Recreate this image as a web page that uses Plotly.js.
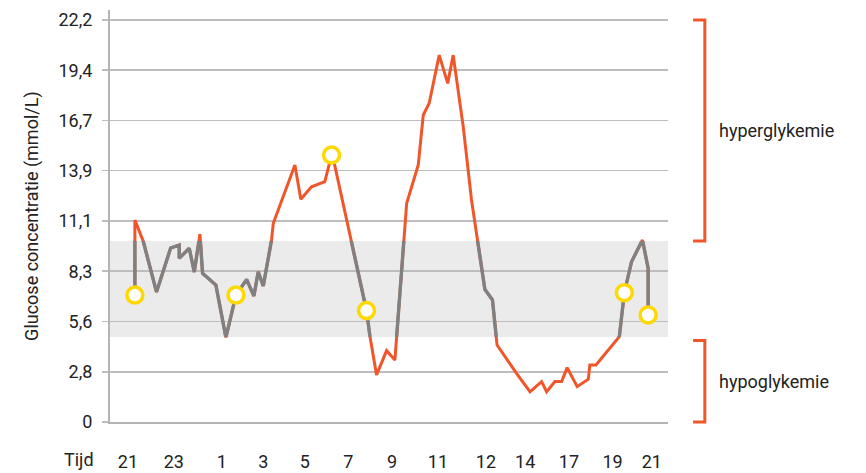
<!DOCTYPE html>
<html>
<head>
<meta charset="utf-8">
<script src="https://cdn.plot.ly/plotly-3.0.1.min.js"></script>
<style>html,body{margin:0;padding:0;background:#fff;}#chart{width:866px;height:473px;}</style>
</head>
<body>
<div id="chart"></div>
<script>
// Time in hours since 21:00, glucose in mmol/L
var hours = [0.32, 0.32, 0.70, 1.31, 1.96, 2.35, 2.35, 2.81, 3.04, 3.30, 3.42, 4.03, 4.49, 4.95, 5.44, 5.77, 5.97, 6.20, 6.58, 6.66,
             7.11, 7.65, 7.92, 8.41, 9.02, 9.18, 9.33, 9.48, 10.93, 11.09, 11.39, 11.85, 12.23, 12.77, 13.30, 13.53, 13.80, 14.26, 14.65, 14.90,
             15.36, 15.74, 16.35, 16.70, 16.91, 17.80, 18.42, 18.95, 19.18, 19.56, 19.87, 20.12, 20.58, 21.09, 21.16, 21.44, 22.51, 22.74, 23.07, 23.57,
             23.83, 23.83];
var glucose = [7.01, 11.15, 9.99, 7.18, 9.61, 9.77, 9.04, 9.59, 8.28, 10.38, 8.21, 7.56, 4.67, 7.01, 7.87, 6.96, 8.30, 7.51, 10.05, 10.97,
               12.44, 14.19, 12.30, 12.99, 13.27, 14.10, 14.74, 14.14, 6.15, 4.71, 2.60, 3.94, 3.42, 12.08, 14.19, 16.95, 17.60, 20.26, 18.70, 20.26,
               16.31, 12.26, 7.33, 6.74, 4.25, 2.69, 1.67, 2.23, 1.67, 2.23, 2.23, 3.00, 1.95, 2.36, 3.15, 3.15, 4.71, 7.14, 8.85, 10.05,
               8.49, 5.91];
// Measurement moments (yellow rings)
var markHours = [0.32, 4.95, 9.33, 10.93, 22.74, 23.83];
var markGlucose = [7.01, 7.01, 14.74, 6.15, 7.14, 5.91];

// Axis ticks
var yTickVals = [0, 2.775, 5.55, 8.325, 11.1, 13.875, 16.65, 19.425, 22.2];
var yTickText = ['0', '2,8', '5,6', '8,3', '11,1', '13,9', '16,7', '19,4', '22,2'];
var xTickVals = [0, 2.1, 4.3, 6.2, 8.1, 10.1, 12.1, 14.2, 16.4, 18.2, 20.2, 22.2, 24];
var xTickText = ['21', '23', '1', '3', '5', '7', '9', '11', '12', '14', '17', '19', '21'];

// Ranges
var normalLow = 4.7, normalHigh = 10;
var hyperTop = 22.2, hyperBottom = 10;
var hypoTop = 4.5, hypoBottom = 0;
var yMax = 22.75;

var ORANGE = '#f0562a', GRAY = '#808080', YELLOW = '#ffd800';
var FONT = "Roboto, 'Liberation Sans', Arial, sans-serif";
var FS = 18;

var traces = [
  {x: hours, y: glucose, type: 'scatter', mode: 'lines', xaxis: 'x', yaxis: 'y',
   line: {color: ORANGE, width: 3, shape: 'linear'}, hoverinfo: 'skip'},
  {x: hours, y: glucose, type: 'scatter', mode: 'lines', xaxis: 'x', yaxis: 'y2',
   line: {color: GRAY, width: 3.4, shape: 'linear'}, hoverinfo: 'skip'},
  {x: markHours, y: markGlucose, type: 'scatter', mode: 'markers', xaxis: 'x', yaxis: 'y3',
   marker: {size: 16, color: '#ffffff', line: {color: YELLOW, width: 3.5}}, cliponaxis: false, hoverinfo: 'skip'}
];

function py(v) { return v / yMax; }
function bracket(top, bottom) {
  var x0 = 1.045, x1 = 1.066;
  return {type: 'path', xref: 'paper', yref: 'paper',
    path: 'M ' + x0 + ',' + py(top) + ' L ' + x1 + ',' + py(top) + ' L ' + x1 + ',' + py(bottom) + ' L ' + x0 + ',' + py(bottom),
    line: {color: ORANGE, width: 3}};
}

var layout = {
  width: 866, height: 473,
  margin: {l: 110, r: 198, t: 10, b: 51},
  paper_bgcolor: '#ffffff', plot_bgcolor: 'rgba(0,0,0,0)',
  showlegend: false,
  font: {family: FONT, size: FS, color: '#222222'},
  xaxis: {range: [-0.82, 24.74], tickvals: xTickVals, ticktext: xTickText, ticks: '',
    showgrid: false, zeroline: false, showline: true, linecolor: '#b4b4b4', linewidth: 2,
    ticklabelstandoff: 22, tickfont: {family: FONT, size: FS, color: '#222222'}, fixedrange: true},
  yaxis: {range: [0, yMax], tickvals: yTickVals, ticktext: yTickText, ticks: 'outside', ticklen: 6,
    tickcolor: '#bdbdbd', tickwidth: 1.5, showgrid: true, gridcolor: '#bdbdbd', gridwidth: 1.5,
    zeroline: false, showline: true, linecolor: '#b4b4b4', linewidth: 2, ticklabelstandoff: 6,
    tickfont: {family: FONT, size: FS, color: '#222222'}, fixedrange: true},
  yaxis2: {domain: [normalLow / yMax, normalHigh / yMax], range: [normalLow, normalHigh], anchor: 'x',
    visible: false, fixedrange: true},
  yaxis3: {domain: [0, 1], range: [0, yMax], anchor: 'x', visible: false, fixedrange: true},
  shapes: [
    {type: 'rect', xref: 'paper', yref: 'y', x0: 0, x1: 1, y0: normalLow, y1: normalHigh,
     fillcolor: '#ebebeb', line: {width: 0}, layer: 'below'},
    bracket(hyperTop, hyperBottom),
    bracket(hypoTop, hypoBottom)
  ],
  annotations: [
    {text: 'Glucose concentratie (mmol/L)', xref: 'paper', yref: 'paper', x: -0.14, y: 0.5,
     textangle: -90, showarrow: false, xanchor: 'center', yanchor: 'middle', font: {size: FS}},
    {text: 'Tijd', xref: 'paper', yref: 'paper', x: -0.0556, y: -0.092, showarrow: false,
     xanchor: 'center', yanchor: 'middle', font: {size: FS}},
    {text: 'hyperglykemie', xref: 'paper', yref: 'y', x: 1.088, y: (hyperTop + hyperBottom) / 2,
     showarrow: false, xanchor: 'left', yanchor: 'middle', font: {size: FS}},
    {text: 'hypoglykemie', xref: 'paper', yref: 'y', x: 1.088, y: (hypoTop + hypoBottom) / 2,
     showarrow: false, xanchor: 'left', yanchor: 'middle', font: {size: FS}}
  ]
};

Plotly.newPlot('chart', traces, layout, {staticPlot: true, displayModeBar: false});
</script>
</body>
</html>
